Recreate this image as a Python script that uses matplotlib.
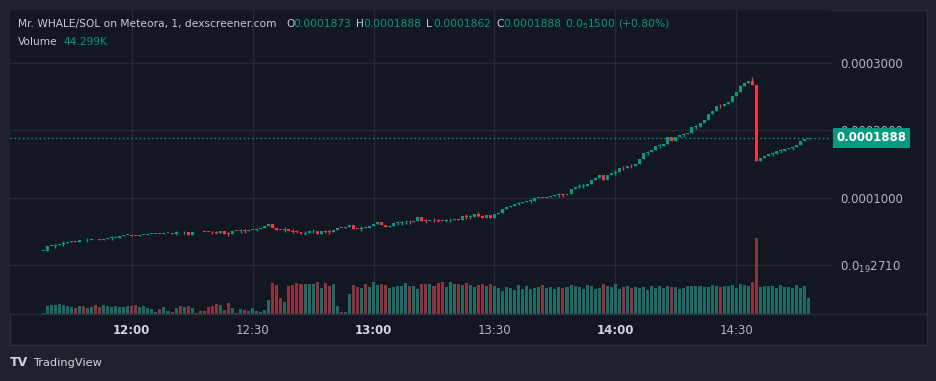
import numpy as np
import matplotlib
matplotlib.use("Agg")
import matplotlib.pyplot as plt
from matplotlib.patches import Rectangle
from matplotlib.lines import Line2D
from matplotlib.transforms import blended_transform_factory

W, H = 937, 381

# 1-minute closes in 1e-7 SOL, first candle at 11:38
close = [203, 281, 281, 292, 307, 326, 336, 351, 348, 366,
         364, 370, 381, 378, 370, 381, 400, 402, 403, 425,
         440, 441, 437, 430, 449, 450, 455, 459, 462, 457,
         470, 471, 464, 484, 483, 485, 449, 489, 483, 489,
         488, 485, 483, 480, 499, 464, 460, 504, 500, 504,
         502, 514, 523, 529, 543, 573, 612, 553, 523, 514,
         538, 504, 496, 494, 464, 479, 499, 504, 464, 499,
         494, 490, 523, 553, 550, 558, 588, 538, 535, 548,
         545, 578, 612, 642, 597, 567, 582, 622, 625, 630,
         635, 632, 656, 706, 656, 652, 667, 662, 658, 655,
         660, 665, 686, 671, 726, 712, 716, 756, 730, 701,
         741, 701, 756, 775, 830, 859, 879, 908, 912, 933,
         948, 953, 990, 1000, 995, 1005, 1018, 1037, 1042, 1038,
         1056, 1121, 1160, 1168, 1172, 1200, 1259, 1289, 1333, 1264,
         1333, 1363, 1378, 1437, 1432, 1471, 1462, 1492, 1570, 1654,
         1670, 1699, 1763, 1768, 1795, 1891, 1842, 1901, 1921, 1936,
         1960, 2044, 2048, 2099, 2148, 2237, 2281, 2356, 2350, 2385,
         2419, 2504, 2563, 2652, 2696, 2726, 2667, 1545, 1585, 1615,
         1640, 1649, 1689, 1693, 1719, 1728, 1743, 1778, 1833, 1862,
         1888]

# volume in thousands
volume = [4, 22, 25, 24, 28, 25, 22, 19, 17, 22,
          22, 17, 19, 25, 19, 25, 22, 19, 22, 19,
          19, 22, 22, 25, 19, 22, 16, 13, 6, 14,
          19, 8, 6, 17, 22, 19, 22, 17, 3, 8,
          8, 19, 22, 28, 25, 11, 30, 17, 3, 14,
          11, 8, 17, 8, 6, 11, 39, 86, 80, 44,
          33, 78, 80, 86, 83, 83, 83, 83, 89, 72,
          86, 78, 83, 22, 6, 6, 55, 80, 75, 72,
          83, 75, 89, 80, 83, 80, 72, 75, 78, 78,
          86, 78, 78, 69, 83, 83, 83, 78, 86, 89,
          75, 89, 83, 83, 80, 86, 80, 75, 80, 83,
          78, 83, 78, 72, 64, 75, 72, 66, 80, 69,
          78, 69, 72, 75, 80, 72, 75, 69, 75, 72,
          75, 80, 78, 75, 69, 80, 78, 69, 72, 83,
          78, 75, 83, 69, 75, 78, 72, 75, 72, 75,
          66, 78, 72, 78, 72, 78, 75, 75, 69, 72,
          78, 78, 78, 78, 75, 75, 80, 78, 75, 78,
          78, 80, 72, 83, 80, 78, 89, 210, 75, 78,
          78, 78, 72, 80, 75, 75, 72, 80, 72, 78,
          44.299]

# candles drawn with short wicks on both sides
cross = [3, 5, 11, 17, 33, 35, 42, 43, 46, 49, 50, 53, 60, 62, 63, 65, 67,
         70, 71, 79, 88, 89, 90, 91, 95, 97, 98, 100, 101, 105, 106, 108,
         118, 121, 128, 129, 133, 134, 142, 144, 146, 150, 153, 159, 162,
         168, 181, 183, 186]
wick_hi = {176: 2782, 173: 2670}

o_last, h_last, l_last, c_last = 1873, 1888, 1862, 1888

tick_pos = [22, 52, 82, 112, 142, 172]
tick_txt = ["12:00", "12:30", "13:00", "13:30", "14:00", "14:30"]
price_ticks = [0, 1000, 2000, 3000]
price_txt = ["0.0$_{19}$2710", "0.0001000", "0.0002000", "0.0003000"]

BG = "#131722"
OUT = "#1e222d"
GRID = "#262a35"
UP, DN = "#089981", "#f23645"
VUP, VDN = "#1f6a62", "#8a3440"

c = np.array(close, dtype=float)
o = np.r_[c[0], c[:-1]]
o[-1] = o_last
hi = np.maximum(o, c)
lo = np.minimum(o, c)
hi[cross] += 25
lo[cross] -= 25
for k, v in wick_hi.items():
    hi[k] = v
hi[-1], lo[-1] = h_last, l_last
x = np.arange(len(c))
up = c >= o


def fx(px):
    return px / W


def fy(py):
    return 1 - py / H


fig = plt.figure(figsize=(W / 100, H / 100), dpi=100, facecolor=OUT)
fig.add_artist(Rectangle((fx(10), fy(345)), fx(917), 335 / H, transform=fig.transFigure,
                         fc=BG, ec="#2a2e39", lw=1, zorder=-5))

rect = [fx(10), fy(314), fx(821), 304 / H]
axv = fig.add_axes(rect)
ax = fig.add_axes(rect, sharex=axv)
axv.set_facecolor(BG)
ax.patch.set_visible(False)
for a in (ax, axv):
    for s in a.spines.values():
        s.set_visible(False)

# volume
axv.bar(x, volume, width=0.75, color=np.where(up, VUP, VDN), zorder=2)
axv.set_ylim(0, 842)
axv.set_yticks([])
axv.grid(axis="x", color=GRID, lw=1, zorder=0)
axv.set_axisbelow(True)
bl = blended_transform_factory(axv.transAxes, ax.transData)
for p in price_ticks:
    axv.add_line(Line2D([0, 1], [p, p], transform=bl, color=GRID, lw=1, zorder=0))
axv.tick_params(axis="x", length=0, labelbottom=False)

# candles
ax.set_xlim(-8.2, 195.5)
ax.set_ylim(-726, 3778)
cols = np.where(up, UP, DN)
ax.vlines(x, lo, hi, colors=cols, lw=1, zorder=3)
ax.bar(x, np.maximum(np.abs(c - o), 12), bottom=np.minimum(o, c),
       width=0.74, color=cols, zorder=4)
ax.axhline(c_last, color=UP, lw=1, ls=(0, (1, 2)), zorder=2)

ax.yaxis.tick_right()
ax.set_yticks(price_ticks, price_txt)
ax.tick_params(axis="y", length=0, pad=6.5, labelsize=8.5, labelcolor="#b2b5be")
ax.set_xticks(tick_pos, tick_txt)
ax.tick_params(axis="x", length=0, pad=7, labelsize=8.5, labelcolor="#b2b5be")
for t in ax.get_xticklabels():
    if t.get_text().endswith(":00"):
        t.set_fontweight("bold")
        t.set_color("#d1d4dc")

# last price tag
ax.annotate(f"{c_last * 1e-7:.7f}",
            xy=(1, c_last), xycoords=("axes fraction", "data"),
            xytext=(4.2, -0.3), textcoords="offset points", ha="left", va="center",
            fontsize=8.5, fontweight="bold", color="white", annotation_clip=False,
            bbox=dict(boxstyle="square,pad=0.3", fc=UP, ec="none"), zorder=10)

fig.add_artist(Line2D([fx(10), fx(927)], [fy(314), fy(314)], color="#2a2e39", lw=1))

# header
TXT = "#c7cad1"
FS = 7.65
hdr_y = fy(24)
fig.text(fx(18), hdr_y, "Mr. WHALE/SOL on Meteora, 1, dexscreener.com", color=TXT,
         fontsize=FS, va="center")
for lab, px, val in [("O", 286, o_last), ("H", 356, h_last), ("L", 426, l_last), ("C", 496, c_last)]:
    fig.text(fx(px), hdr_y, lab, color=TXT, fontsize=FS, va="center")
    fig.text(fx(px + 7.5), hdr_y, f"{val * 1e-7:.7f}", color=UP, fontsize=FS, va="center")
fig.text(fx(565), hdr_y, "0.0$_5$1500", color=UP, fontsize=FS, va="center")
fig.text(fx(618), hdr_y, "(+0.80%)", color=UP, fontsize=FS, va="center")
fig.text(fx(18), fy(42), "Volume", color=TXT, fontsize=FS, va="center")
fig.text(fx(64), fy(42), f"{volume[-1]:.3f}K", color=UP, fontsize=FS, va="center")

# logo
fig.text(fx(10), fy(363), "TV", color="#d1d4dc", fontsize=9, fontweight="heavy", va="center")
fig.text(fx(33), fy(363), "TradingView", color="#d1d4dc", fontsize=8.2, va="center")

fig.savefig("out.png", dpi=100, facecolor=OUT)
